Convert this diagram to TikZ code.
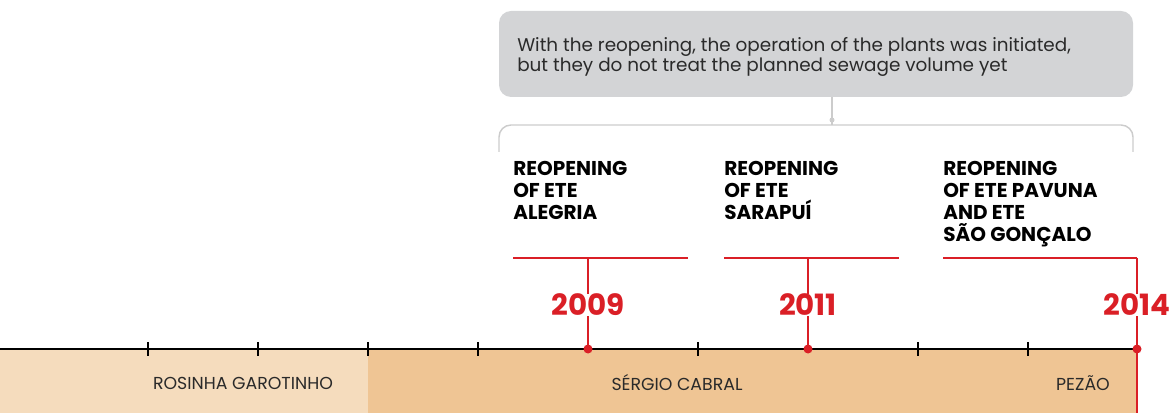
\documentclass[tikz,border=0pt]{standalone}
\usepackage{fontspec}
\setmainfont{Poppins}
\definecolor{ered}{HTML}{DA1F26}
\definecolor{boxgrey}{HTML}{D3D4D6}
\definecolor{brkgrey}{HTML}{CCCCCC}
\definecolor{lightbar}{HTML}{F5DCBD}
\definecolor{darkbar}{HTML}{EFC594}
\definecolor{ink}{HTML}{2A2A2A}

\tikzset{
  year/.style={text=ered, font=\fontsize{22}{22}\selectfont\bfseries, inner sep=0pt},
  event/.style={anchor=north west, align=left, inner sep=0pt,
    font=\fontsize{15}{16.5}\selectfont\bfseries},
  govname/.style={text=ink, font=\fontsize{13}{13}\selectfont, inner sep=0pt},
  redline/.style={draw=ered, line width=1pt},
}

\begin{document}
\begin{tikzpicture}[x=0.75pt, y=-0.75pt]
\useasboundingbox (0,0) rectangle (1171,413);
% bars of the governments
\fill[lightbar] (0,349) rectangle (368,413);
\fill[darkbar] (368,349) rectangle (1137,413);
\node[govname] (rosinha) at (243,383) {ROSINHA GAROTINHO};
\node[govname] (cabral) at (677,383) {SÉRGIO CABRAL};
\node[govname] (pezao) at (1083,383) {PEZÃO};

% time axis
\coordinate (start) at (0,349);
\coordinate (d2009) at (588,349);
\coordinate (d2011) at (808,349);
\coordinate (d2014) at (1137,349);
\draw[line width=1pt] (start) -- (d2014);
\foreach \x in {148,258,368,478,698,918,1028}
  \draw[line width=1pt] (\x,342) -- (\x,356);

% note box and bracket
\node[fill=boxgrey, rounded corners=9pt, minimum width=475.5pt, minimum height=64.5pt,
  inner sep=0pt] (note) at (816,54) {};
\node[anchor=west, align=left, inner sep=0pt, text=ink,
  font=\fontsize{13.8}{15}\selectfont] (notetext) at (517,57)
  {With the reopening, the operation of the plants was initiated,\\
   but they do not treat the planned sewage volume yet};
\draw[brkgrey, line width=1.1pt, rounded corners=9pt]
  (499,152) -- (499,125) -- (1133,125) -- (1133,152);
\coordinate (brk) at (832,125);
\draw[brkgrey, line width=1pt] (note.south -| brk) -- (brk);
\fill[brkgrey] (832,120) circle (2.5);

% events
\node[event] (alegria) at (513,161) {REOPENING\\OF ETE\\ALEGRIA};
\node[event] (sarapui) at (724,161) {REOPENING\\OF ETE\\SARAPUÍ};
\node[event] (pavuna) at (943,161) {REOPENING\\OF ETE PAVUNA\\AND ETE\\SÃO GONÇALO};

\draw[redline] (513,258) -- (688,258);
\draw[redline] (724,258) -- (899,258);
\draw[redline] (943,258) -- (1137,258);

\node[year] (y2009) at (588,305) {2009};
\node[year] (y2011) at (808,305) {2011};
\node[year] (y2014) at (1137,305) {2014};

\draw[redline] (588,258) -- (y2009.north);
\draw[redline] (y2009.south) -- (d2009);
\draw[redline] (808,258) -- (y2011.north);
\draw[redline] (y2011.south) -- (d2011);
\draw[redline] (1137,258) -- (y2014.north);
\draw[redline] (y2014.south) -- (1137,413);

\foreach \d in {d2009,d2011,d2014}
  \fill[ered] (\d) circle (4.5);
\end{tikzpicture}
\end{document}
